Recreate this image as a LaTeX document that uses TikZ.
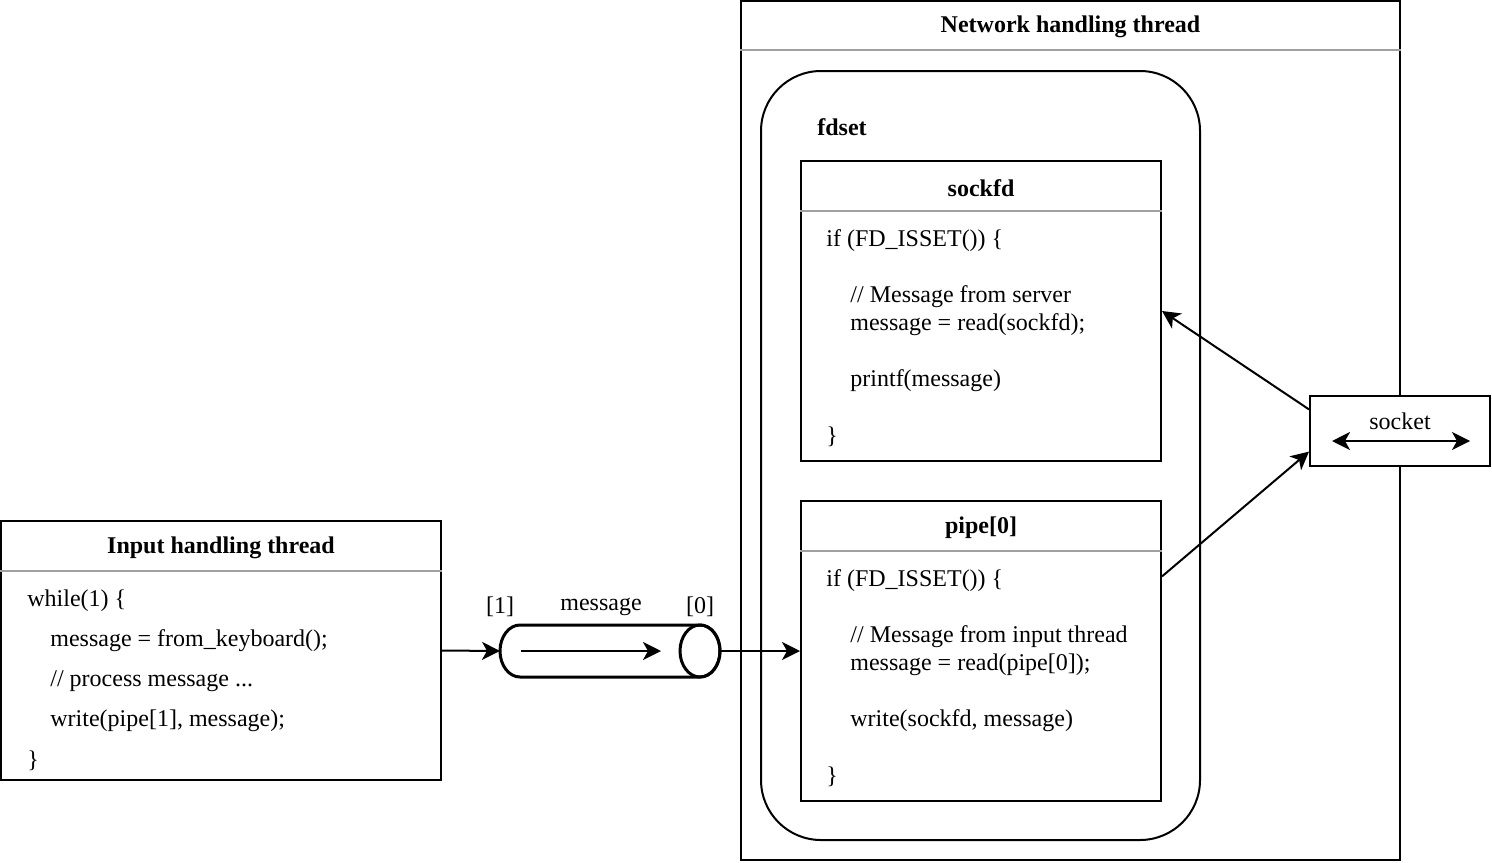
\documentclass[tikz,border=0pt]{standalone}
\usepackage{fontspec}
\setmainfont{Liberation Serif}
\usetikzlibrary{arrows.meta,calc}
\definecolor{sepgray}{RGB}{160,160,160}
\begin{document}
\begin{tikzpicture}[x=0.5pt,y=-0.5pt,
  box/.style={draw, line width=1pt, fill=white, inner sep=0pt},
  sep/.style={draw=sepgray, line width=1pt},
  titletext/.style={font=\fontsize{12}{14}\selectfont\bfseries, inner sep=1pt, yshift=-1.5pt},
  code/.style={font=\fontsize{12}{14}\selectfont, anchor=west, inner sep=0pt, yshift=-1.5pt},
  lbl/.style={font=\fontsize{12}{14}\selectfont, inner sep=1pt, yshift=-1.5pt},
  tip/.style={},
  arr/.style={line width=1pt, -{Stealth[length=9pt,width=9pt,inset=2.5pt]}},
  darr/.style={line width=1pt, {Stealth[length=9pt,width=9pt,inset=2.5pt]}-{Stealth[length=9pt,width=9pt,inset=2.5pt]}},
  pipeline/.style={line width=1.5pt}]
\useasboundingbox (0,0) rectangle (1492,862);

% ---------- Input handling thread ----------
\node[box, minimum width=220pt, minimum height=129.5pt] (inbox) at (221,650.5) {};
\draw[sep] (inbox.west |- 0,571) -- (inbox.east |- 0,571);
\node[titletext] (intitle) at (221,545) {Input handling thread};
\node[code] (in1) at (27,598) {while(1) \{};
\node[code] (in2) at (50,638) {message = from\_keyboard();};
\node[code] (in3) at (50,678) {// process message ...};
\node[code] (in4) at (50,718) {write(pipe[1], message);};
\node[code] (in5) at (27,758) {\}};

% ---------- Network handling thread ----------
\node[box, minimum width=329.5pt, minimum height=429.5pt] (net) at (1070.5,430.5) {};
\draw[sep] (net.west |- 0,50) -- (net.east |- 0,50);
\node[titletext] (nettitle) at (1070.5,24) {Network handling thread};

\node[box, rounded corners=30pt, minimum width=219.5pt, minimum height=384.5pt] (fdset) at (980.5,455.5) {};
\node[titletext, anchor=west, inner sep=0pt] (fdsettitle) at (817,124) {fdset};

% sockfd box
\node[box, minimum width=180pt, minimum height=150pt] (sockfd) at (981,311) {};
\draw[sep] (sockfd.west |- 0,211) -- (sockfd.east |- 0,211);
\node[titletext] (sockfdtitle) at (981,185) {sockfd};
\node[code] (s1) at (826,238) {if (FD\_ISSET()) \{};
\node[code] (s2) at (850,294) {// Message from server};
\node[code] (s3) at (850,322) {message = read(sockfd);};
\node[code] (s4) at (850,378) {printf(message)};
\node[code] (s5) at (826,434) {\}};

% pipe[0] box
\node[box, minimum width=180pt, minimum height=150pt] (pipe0) at (981,651) {};
\draw[sep] (pipe0.west |- 0,551) -- (pipe0.east |- 0,551);
\node[titletext] (pipe0title) at (981,525) {pipe[0]};
\node[code] (p1) at (826,578) {if (FD\_ISSET()) \{};
\node[code] (p2) at (850,634) {// Message from input thread};
\node[code] (p3) at (850,662) {message = read(pipe[0]);};
\node[code] (p4) at (850,718) {write(sockfd, message)};
\node[code] (p5) at (826,774) {\}};

% ---------- pipe ----------
\coordinate (pipeL) at (500,651);
\coordinate (pipeR) at (720,651);
\draw[pipeline, fill=white] (520,625) -- (700,625)
  arc[start angle=-90, end angle=90, x radius=20, y radius=26]
  -- (520,677)
  arc[start angle=90, end angle=270, x radius=20, y radius=26] -- cycle;
\draw[pipeline] (700,651) ellipse[x radius=20, y radius=26];
\coordinate (flowA) at (521,651);
\coordinate (flowB) at (661,651);
\draw[arr, line width=1.3pt] (flowA) -- (flowB);
\node[lbl] (lbl1) at (500,604) {[1]};
\node[lbl] (lblmsg) at (601,604) {message};
\node[lbl] (lbl0) at (700,604) {[0]};

\draw[arr] (inbox.east) -- (pipeL);
\draw[arr] (pipeR) -- (pipe0.west);

% ---------- socket ----------
\node[box, minimum width=90pt, minimum height=35pt] (socket) at (1400,431) {};
\node[lbl] (socketlbl) at (1400,418) {socket};
\coordinate (sockA) at (1332,441);
\coordinate (sockB) at (1470,441);
\draw[darr] (sockA) -- (sockB);

\draw[arr] ($(socket.north west)!0.2!(socket.south west)$) -- (sockfd.east);
\draw[arr] ($(pipe0.north east)!0.253!(pipe0.south east)$) -- ($(socket.north west)!0.786!(socket.south west)$);
\end{tikzpicture}
\end{document}
